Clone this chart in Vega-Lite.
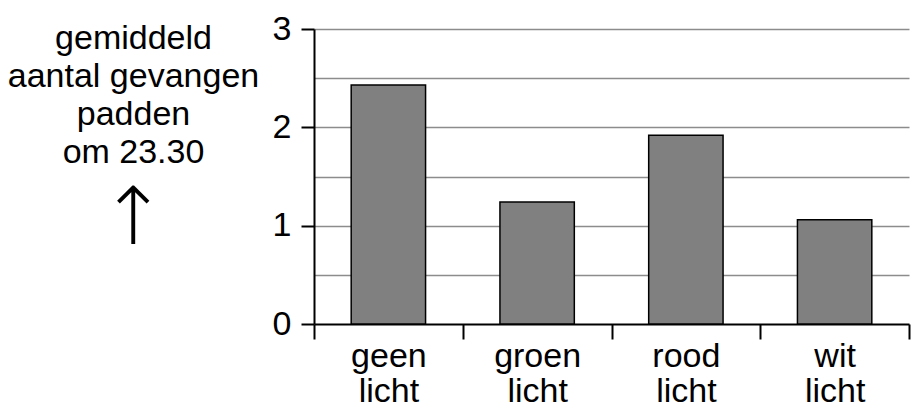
{
  "$schema": "https://vega.github.io/schema/vega-lite/v6.json",
  "width": 595,
  "height": 295,
  "autosize": "none",
  "padding": {"left": 314, "top": 29, "right": 12, "bottom": 85},
  "background": "white",
  "title": {
    "text": "↑",
    "anchor": "start",
    "frame": "group",
    "orient": "top",
    "offset": 0,
    "dx": -181,
    "dy": 329,
    "align": "center",
    "baseline": "bottom",
    "font": "DejaVu Sans",
    "fontSize": 80,
    "fontWeight": 200,
    "color": "black"
  },
  "data": {
    "values": [
      {"licht": "geen licht", "padden": 2.43},
      {"licht": "groen licht", "padden": 1.24},
      {"licht": "rood licht", "padden": 1.92},
      {"licht": "wit licht", "padden": 1.06}
    ]
  },
  "mark": {"type": "bar", "fill": "#808080", "stroke": "black", "strokeWidth": 1.5, "width": {"band": 0.5}},
  "encoding": {
    "x": {
      "field": "licht",
      "type": "nominal",
      "sort": null,
      "scale": {"paddingInner": 0, "paddingOuter": 0},
      "axis": {
        "title": null,
        "labelAngle": 0,
        "labelExpr": "split(datum.label, ' ')",
        "labelFont": "Liberation Sans",
        "labelFontSize": 34,
        "labelLineHeight": 35,
        "labelColor": "black",
        "labelPadding": 0,
        "labelBaseline": "top",
        "tickBand": "extent",
        "tickSize": 15,
        "tickWidth": 2,
        "tickColor": "black",
        "domainColor": "black",
        "domainWidth": 2,
        "grid": false
      }
    },
    "y": {
      "field": "padden",
      "type": "quantitative",
      "scale": {"domain": [0, 3], "nice": false},
      "axis": {
        "values": [0, 0.5, 1, 1.5, 2, 2.5, 3],
        "title": ["gemiddeld", "aantal gevangen", "padden", "om 23.30"],
        "titleAngle": 0,
        "titleAlign": "center",
        "titleBaseline": "alphabetic",
        "titleX": -181,
        "titleY": 19,
        "titleFont": "Liberation Sans",
        "titleFontSize": 34,
        "titleFontWeight": "normal",
        "titleLineHeight": 38.3,
        "titleColor": "black",
        "labelFont": "Liberation Sans",
        "labelFontSize": 34,
        "labelColor": "black",
        "labelPadding": 10,
        "labelExpr": "datum.value % 1 === 0 ? format(datum.value, 'd') : ''",
        "tickSize": 13,
        "tickWidth": 2,
        "tickColor": "black",
        "tickOpacity": {"condition": {"test": "datum.value % 1 === 0", "value": 1}, "value": 0},
        "domainColor": "black",
        "domainWidth": 2,
        "grid": true,
        "gridColor": "#8c8c8c",
        "gridWidth": 1.5,
        "gridOpacity": {"condition": {"test": "datum.value === 0", "value": 0}, "value": 1}
      }
    }
  },
  "config": {"view": {"stroke": null}}
}
